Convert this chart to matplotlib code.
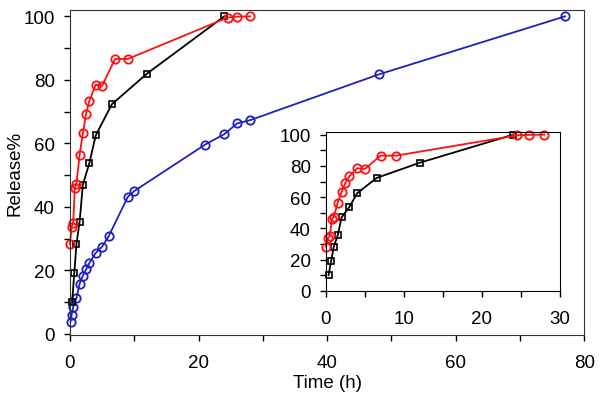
import matplotlib
matplotlib.use("Agg")
import matplotlib.pyplot as plt
from matplotlib.ticker import MultipleLocator

plt.rcParams['font.family'] = ['Liberation Sans', 'DejaVu Sans']

# release data
t_red = [0, 0.25, 0.5, 0.75, 1, 1.5, 2, 2.5, 3, 4, 5, 7, 9, 24.5, 26, 28]
r_red = [28.2, 33.8, 35.0, 46.0, 47.2, 56.5, 63.2, 69.3, 73.3, 78.5, 78.1, 86.6, 86.6, 99.6, 99.9, 100]

t_black = [0.33, 0.67, 1, 1.5, 2, 3, 4, 6.5, 12, 24]
r_black = [10.0, 19.2, 28.2, 35.4, 47.0, 53.7, 62.5, 72.3, 82.0, 100]

t_blue = [0.083, 0.25, 0.5, 1, 1.5, 2, 2.5, 3, 4, 5, 6, 9, 10, 21, 24, 26, 28, 48, 77]
r_blue = [3.9, 6.0, 8.5, 11.3, 15.8, 18.3, 20.3, 22.3, 25.5, 27.5, 30.7, 43.2, 45.0,
          59.6, 62.9, 66.3, 67.3, 81.7, 100]

red = '#ff1010'
blue = '#2020c0'
fs = 13.5

fig = plt.figure(figsize=(6.05, 4.06), dpi=100)
ax = fig.add_axes([0.1157, 0.1727, 0.8501, 0.8002])

ax.plot(t_blue, r_blue, color=blue, lw=1.3, marker='o', ms=6, mfc='none', mew=1.3, clip_on=False)
ax.plot(t_black, r_black, color='black', lw=1.3, marker='s', ms=4.5, mfc='none', mew=1.2, clip_on=False)
ax.plot(t_red, r_red, color=red, lw=1.3, marker='o', ms=6, mfc='none', mew=1.3, clip_on=False)

ax.set_xlim(0, 80)
ax.set_ylim(-0.3, 102)
ax.xaxis.set_major_locator(MultipleLocator(20))
ax.xaxis.set_minor_locator(MultipleLocator(10))
ax.yaxis.set_major_locator(MultipleLocator(20))
ax.yaxis.set_minor_locator(MultipleLocator(10))
ax.tick_params(which='both', direction='out', length=4, width=1, labelsize=fs)
ax.tick_params(axis='x', pad=10)
ax.tick_params(axis='y', pad=7)
ax.set_xlabel('Time (h)', fontsize=fs, labelpad=2)
ax.set_ylabel('Release%', fontsize=fs, labelpad=0)
for s in ax.spines.values():
    s.set_color('#333333')

#inset
ins = fig.add_axes([0.5388, 0.2815, 0.3868, 0.3900])
ins.plot(t_black, r_black, color='black', lw=1.3, marker='s', ms=4.5, mfc='none', mew=1.2, clip_on=False)
ins.plot(t_red, r_red, color=red, lw=1.3, marker='o', ms=6, mfc='none', mew=1.3, clip_on=False)
ins.set_xlim(0, 30)
ins.set_ylim(0, 101.5)
ins.xaxis.set_major_locator(MultipleLocator(10))
ins.xaxis.set_minor_locator(MultipleLocator(5))
ins.yaxis.set_major_locator(MultipleLocator(20))
ins.yaxis.set_minor_locator(MultipleLocator(10))
ins.tick_params(which='both', direction='out', length=4, width=1, labelsize=fs)
ins.tick_params(axis='x', pad=10)
ins.tick_params(axis='y', pad=7)

fig.savefig('out.png', dpi=100)
